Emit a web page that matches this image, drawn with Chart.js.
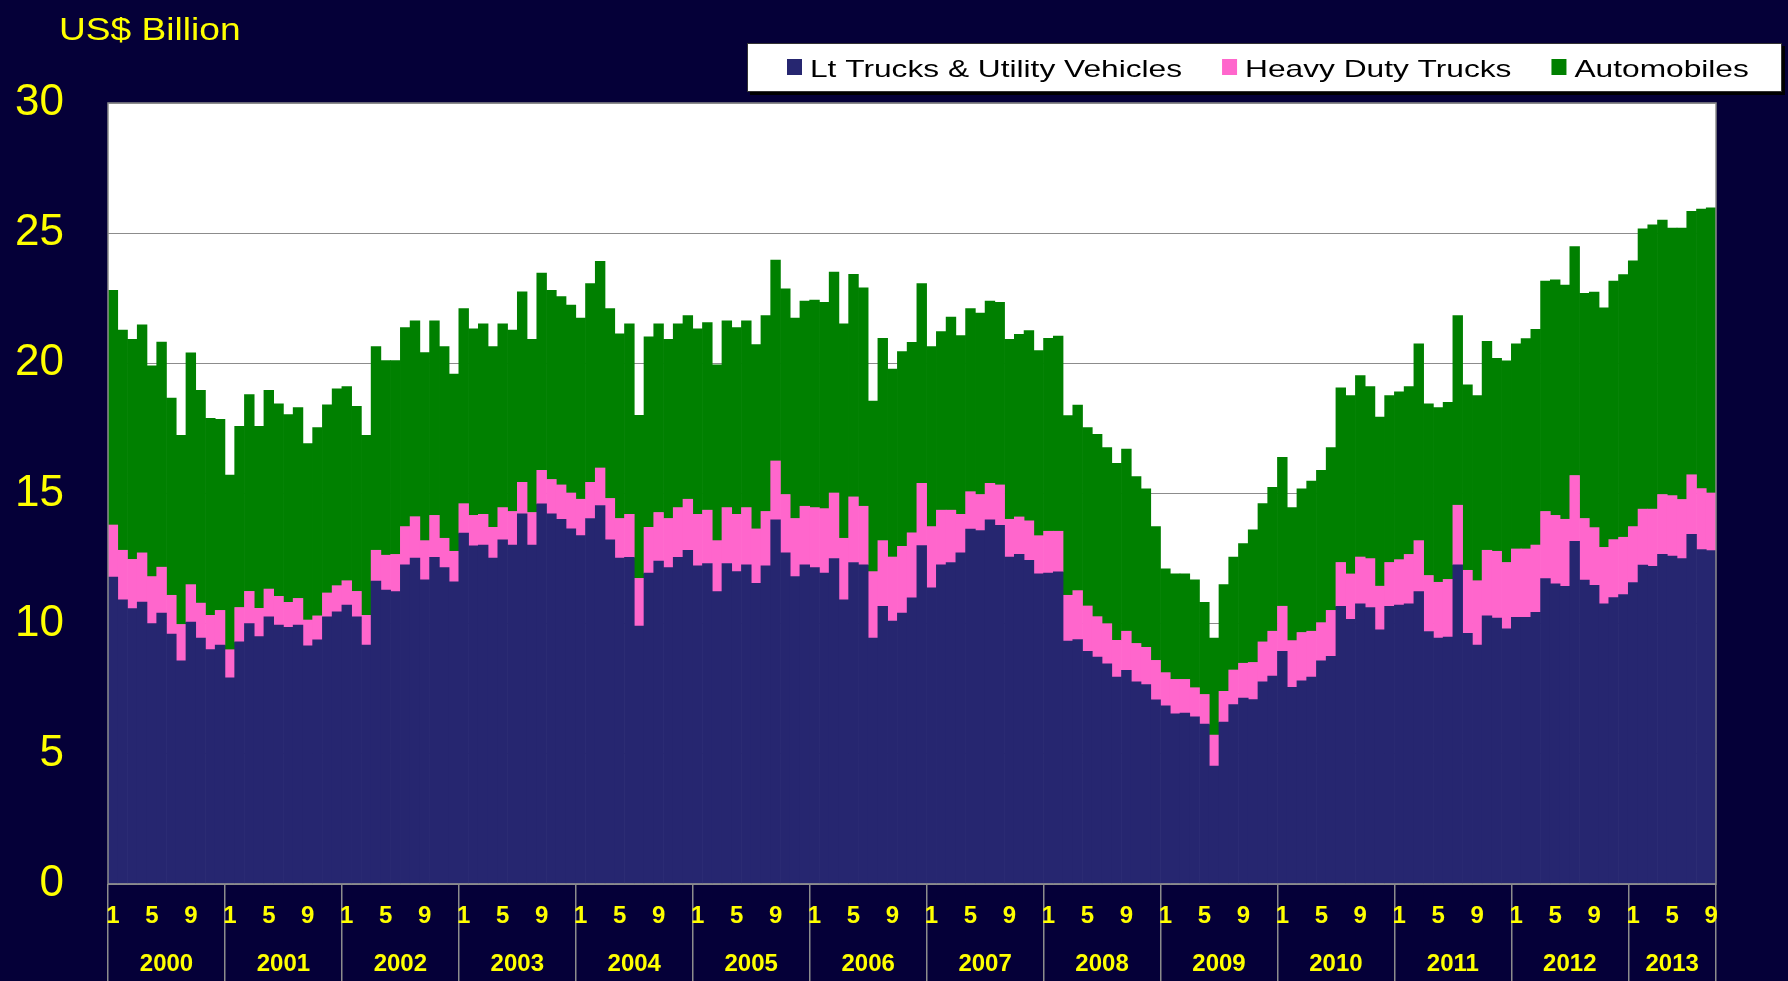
<!DOCTYPE html>
<html>
<head>
<meta charset="utf-8">
<script src="https://cdn.jsdelivr.net/npm/chart.js@4.4.0/dist/chart.umd.min.js"></script>
<style>
  html, body { margin: 0; padding: 0; background: #050038; }
  canvas { display: block; }
</style>
</head>
<body>
<canvas id="chart" width="1788" height="981"></canvas>
<script>
'use strict';
var years = ['2000', '2001', '2002', '2003', '2004', '2005', '2006', '2007', '2008', '2009', '2010', '2011', '2012', '2013'];
var monthsPerYear = [12, 12, 12, 12, 12, 12, 12, 12, 12, 12, 12, 12, 12, 9];
var shownMonths = [1, 5, 9];
var seriesNames = ['Lt Trucks & Utility Vehicles', 'Heavy Duty Trucks', 'Automobiles'];
var seriesColors = ['#262670', '#ff66cc', '#008000'];

// US$ billion, monthly, Jan 2000 - Sep 2013
var ltTrucks = [
    11.79, 10.92, 10.58, 10.83, 10.00, 10.41, 9.60, 8.57, 10.06, 9.45, 9.00, 9.18,
    7.92, 9.30, 10.00, 9.50, 10.26, 9.95, 9.86, 9.95, 9.15, 9.38, 10.26, 10.45,
    10.71, 10.26, 9.18, 11.64, 11.29, 11.23, 12.26, 12.52, 11.68, 12.55, 12.15, 11.61,
    13.48, 12.99, 13.02, 12.52, 13.22, 13.02, 14.22, 13.02, 14.60, 14.22, 14.01, 13.64,
    13.38, 14.04, 14.54, 13.22, 12.52, 12.55, 9.91, 11.94, 12.40, 12.15, 12.55, 12.82,
    12.22, 12.31, 11.23, 12.31, 12.00, 12.26, 11.55, 12.22, 13.99, 12.72, 11.81, 12.26,
    12.15, 11.94, 12.50, 10.92, 12.35, 12.26, 9.45, 10.67, 10.10, 10.41, 10.99, 13.00,
    11.38, 12.26, 12.35, 12.72, 13.63, 13.58, 13.99, 13.78, 12.56, 12.66, 12.43, 11.91,
    11.94, 11.99, 9.33, 9.39, 8.94, 8.72, 8.46, 7.95, 8.21, 7.77, 7.66, 7.07,
    6.84, 6.54, 6.57, 6.42, 6.14, 4.53, 6.22, 6.89, 7.14, 7.08, 7.77, 7.99,
    8.94, 7.55, 7.80, 7.95, 8.57, 8.75, 10.67, 10.17, 10.76, 10.62, 9.76, 10.67,
    10.71, 10.76, 11.23, 9.70, 9.45, 9.48, 12.26, 9.63, 9.18, 10.30, 10.21, 9.80,
    10.24, 10.24, 10.44, 11.73, 11.53, 11.43, 13.16, 11.67, 11.47, 10.76, 11.00, 11.12,
    11.58, 12.25, 12.20, 12.66, 12.60, 12.50, 13.43, 12.85, 12.81
];
var heavyTrucks = [
    2.00, 1.90, 1.89, 1.89, 1.81, 1.76, 1.49, 1.40, 1.44, 1.34, 1.32, 1.33,
    1.08, 1.32, 1.24, 1.09, 1.07, 1.10, 0.96, 1.02, 0.99, 0.92, 0.92, 1.01,
    0.94, 0.98, 1.14, 1.18, 1.34, 1.43, 1.47, 1.59, 1.51, 1.61, 1.13, 1.17,
    1.13, 1.17, 1.18, 1.18, 1.24, 1.29, 1.21, 1.25, 1.29, 1.32, 1.32, 1.38,
    1.40, 1.39, 1.44, 1.59, 1.52, 1.65, 1.83, 1.76, 1.87, 1.89, 1.91, 1.96,
    1.98, 2.05, 1.96, 2.15, 2.20, 2.20, 2.09, 2.09, 2.26, 2.24, 2.23, 2.25,
    2.31, 2.48, 2.52, 2.36, 2.52, 2.25, 2.55, 2.52, 2.46, 2.56, 2.50, 2.39,
    2.35, 2.10, 2.01, 1.48, 1.44, 1.38, 1.40, 1.55, 1.45, 1.44, 1.52, 1.47,
    1.61, 1.56, 1.76, 1.88, 1.74, 1.55, 1.54, 1.41, 1.50, 1.47, 1.43, 1.52,
    1.28, 1.32, 1.29, 1.12, 1.14, 1.19, 1.18, 1.33, 1.34, 1.43, 1.53, 1.72,
    1.73, 1.80, 1.86, 1.76, 1.47, 1.76, 1.68, 1.74, 1.80, 1.88, 1.68, 1.68,
    1.75, 1.90, 1.96, 2.15, 2.14, 2.22, 2.29, 2.42, 2.47, 2.52, 2.57, 2.55,
    2.63, 2.63, 2.58, 2.58, 2.63, 2.58, 2.53, 2.37, 2.22, 2.17, 2.23, 2.20,
    2.15, 2.15, 2.20, 2.30, 2.32, 2.27, 2.29, 2.34, 2.21
];
var automobiles = [
    9.01, 8.46, 8.45, 8.76, 8.09, 8.65, 7.58, 7.26, 8.90, 8.17, 7.57, 7.34,
    6.71, 6.96, 7.56, 6.99, 7.63, 7.39, 7.21, 7.33, 6.78, 7.23, 7.23, 7.56,
    7.46, 7.11, 6.91, 7.82, 7.48, 7.45, 7.64, 7.52, 7.22, 7.47, 7.36, 6.81,
    7.49, 7.17, 7.32, 6.94, 7.06, 6.97, 7.32, 6.65, 7.58, 7.26, 7.23, 7.22,
    6.96, 7.63, 7.94, 7.29, 7.09, 7.32, 6.26, 7.32, 7.25, 6.88, 7.06, 7.05,
    7.13, 7.21, 6.75, 7.17, 7.17, 7.17, 7.08, 7.52, 7.72, 7.90, 7.70, 7.88,
    7.97, 7.92, 8.49, 8.24, 8.55, 8.39, 6.55, 7.77, 7.22, 7.48, 7.32, 7.67,
    6.91, 6.86, 7.42, 6.87, 7.03, 6.97, 7.00, 7.01, 6.91, 7.01, 7.31, 7.11,
    7.41, 7.50, 6.90, 7.13, 6.85, 7.00, 6.76, 6.80, 7.00, 6.41, 6.09, 5.14,
    3.99, 4.05, 4.05, 4.14, 3.54, 3.73, 4.10, 4.34, 4.60, 5.09, 5.31, 5.53,
    5.72, 5.11, 5.52, 5.77, 5.85, 6.25, 6.71, 6.85, 6.97, 6.61, 6.50, 6.41,
    6.45, 6.45, 7.56, 6.59, 6.71, 6.80, 7.28, 7.12, 7.11, 8.03, 7.41, 7.75,
    7.88, 8.08, 8.29, 8.85, 9.05, 9.00, 8.79, 8.65, 9.05, 9.20, 9.93, 10.09,
    10.21, 10.77, 10.92, 10.54, 10.28, 10.43, 10.12, 10.74, 10.95
];

var FONT = "'Liberation Sans', Arial, sans-serif";
var YELLOW = '#ffff00';
var LINE_GREY = '#8c8c8c';

// month labels and year boundaries
var labels = [];
var monthOf = [];
var yearStarts = [];
var yearCenters = [];
for (var y = 0; y < years.length; y++) {
    yearStarts.push(labels.length);
    yearCenters.push(labels.length + (monthsPerYear[y] - 1) / 2);
    for (var m = 1; m <= monthsPerYear[y]; m++) {
        labels.push(years[y] + '-' + m);
        monthOf.push(m);
    }
}

function stretchText(ctx, text, x, y, sx) {
    ctx.save();
    ctx.translate(x, y);
    ctx.scale(sx, 1);
    ctx.fillText(text, 0, 0);
    ctx.restore();
}

var decorPlugin = {
    id: 'decor',
    beforeDraw: function (chart) {
        var ctx = chart.ctx;
        var a = chart.chartArea;
        ctx.save();
        ctx.fillStyle = '#050038';
        ctx.fillRect(0, 0, chart.width, chart.height);
        ctx.fillStyle = '#ffffff';
        ctx.fillRect(a.left, a.top, a.right - a.left, a.bottom - a.top);
        ctx.restore();
    },
    afterDraw: function (chart) {
        var ctx = chart.ctx;
        var a = chart.chartArea;
        ctx.save();
        // plot border
        ctx.strokeStyle = LINE_GREY;
        ctx.lineWidth = 1.5;
        ctx.strokeRect(a.left, a.top, a.right - a.left, a.bottom - a.top);

        // axis title
        ctx.fillStyle = YELLOW;
        ctx.font = '32px ' + FONT;
        ctx.textBaseline = 'alphabetic';
        stretchText(ctx, 'US$ Billion', 59, 40, 1.16);

        // legend box with shadow
        ctx.fillStyle = '#000000';
        ctx.fillRect(750, 46, 1035, 49);
        ctx.fillStyle = '#ffffff';
        ctx.fillRect(747, 43, 1035, 49);
        ctx.strokeStyle = '#333333';
        ctx.lineWidth = 1;
        ctx.strokeRect(747.5, 43.5, 1034, 48);

        ctx.font = '24px ' + FONT;
        var x = 787;
        var sx = 1.32;
        chart.data.datasets.forEach(function (ds) {
            ctx.fillStyle = ds.backgroundColor;
            ctx.fillRect(x, 59, 15, 16);
            ctx.fillStyle = '#000000';
            stretchText(ctx, ds.label, x + 23, 77, sx);
            x += 23 + ctx.measureText(ds.label).width * sx + 40;
        });
        ctx.restore();
    }
};

var ctx = document.getElementById('chart');
var myChart = new Chart(ctx, {
    type: 'bar',
    data: {
        labels: labels,
        datasets: [
            { label: seriesNames[0], data: ltTrucks, backgroundColor: seriesColors[0] },
            { label: seriesNames[1], data: heavyTrucks, backgroundColor: seriesColors[1] },
            { label: seriesNames[2], data: automobiles, backgroundColor: seriesColors[2] }
        ]
    },
    options: {
        responsive: false,
        animation: false,
        layout: { padding: { left: 0, right: 72, top: 103, bottom: 0 } },
        datasets: {
            bar: { categoryPercentage: 1, barPercentage: 1, borderWidth: 0 }
        },
        plugins: {
            legend: { display: false },
            title: { display: false },
            tooltip: { enabled: false }
        },
        scales: {
            x: {
                type: 'category',
                stacked: true,
                position: 'bottom',
                offset: true,
                border: { display: false },
                grid: {
                    offset: true,
                    drawOnChartArea: false,
                    drawTicks: true,
                    tickLength: 97,
                    lineWidth: 1.5,
                    color: function (c) {
                        if (c.index === undefined || yearStarts.indexOf(c.index) >= 0) {
                            return LINE_GREY;
                        }
                        return 'rgba(0,0,0,0)';
                    }
                },
                ticks: {
                    autoSkip: false,
                    maxRotation: 0,
                    padding: -79,
                    color: YELLOW,
                    font: { family: FONT, size: 24, weight: 'bold' },
                    callback: function (value, index) {
                        var m = monthOf[index];
                        return shownMonths.indexOf(m) >= 0 ? String(m) : '';
                    }
                },
                afterFit: function (scale) { scale.height = 47; }
            },
            x2: {
                type: 'linear',
                position: 'bottom',
                min: -0.5,
                max: labels.length - 0.5,
                bounds: 'data',
                offset: false,
                border: { display: false },
                grid: { display: false, drawTicks: false, offset: false },
                ticks: {
                    autoSkip: false,
                    maxRotation: 0,
                    padding: 19,
                    color: YELLOW,
                    font: { family: FONT, size: 24, weight: 'bold' },
                    callback: function (value, index) { return years[index]; }
                },
                afterBuildTicks: function (scale) {
                    scale.ticks = yearCenters.map(function (v) { return { value: v }; });
                },
                afterFit: function (scale) { scale.height = 50; }
            },
            y: {
                stacked: true,
                min: 0,
                max: 30,
                border: { display: false },
                grid: { color: LINE_GREY, lineWidth: 1, drawTicks: false },
                ticks: {
                    stepSize: 5,
                    padding: 44,
                    color: YELLOW,
                    font: { family: FONT, size: 44 }
                },
                afterFit: function (scale) { scale.width = 108; }
            }
        }
    },
    plugins: [decorPlugin]
});
</script>
</body>
</html>
